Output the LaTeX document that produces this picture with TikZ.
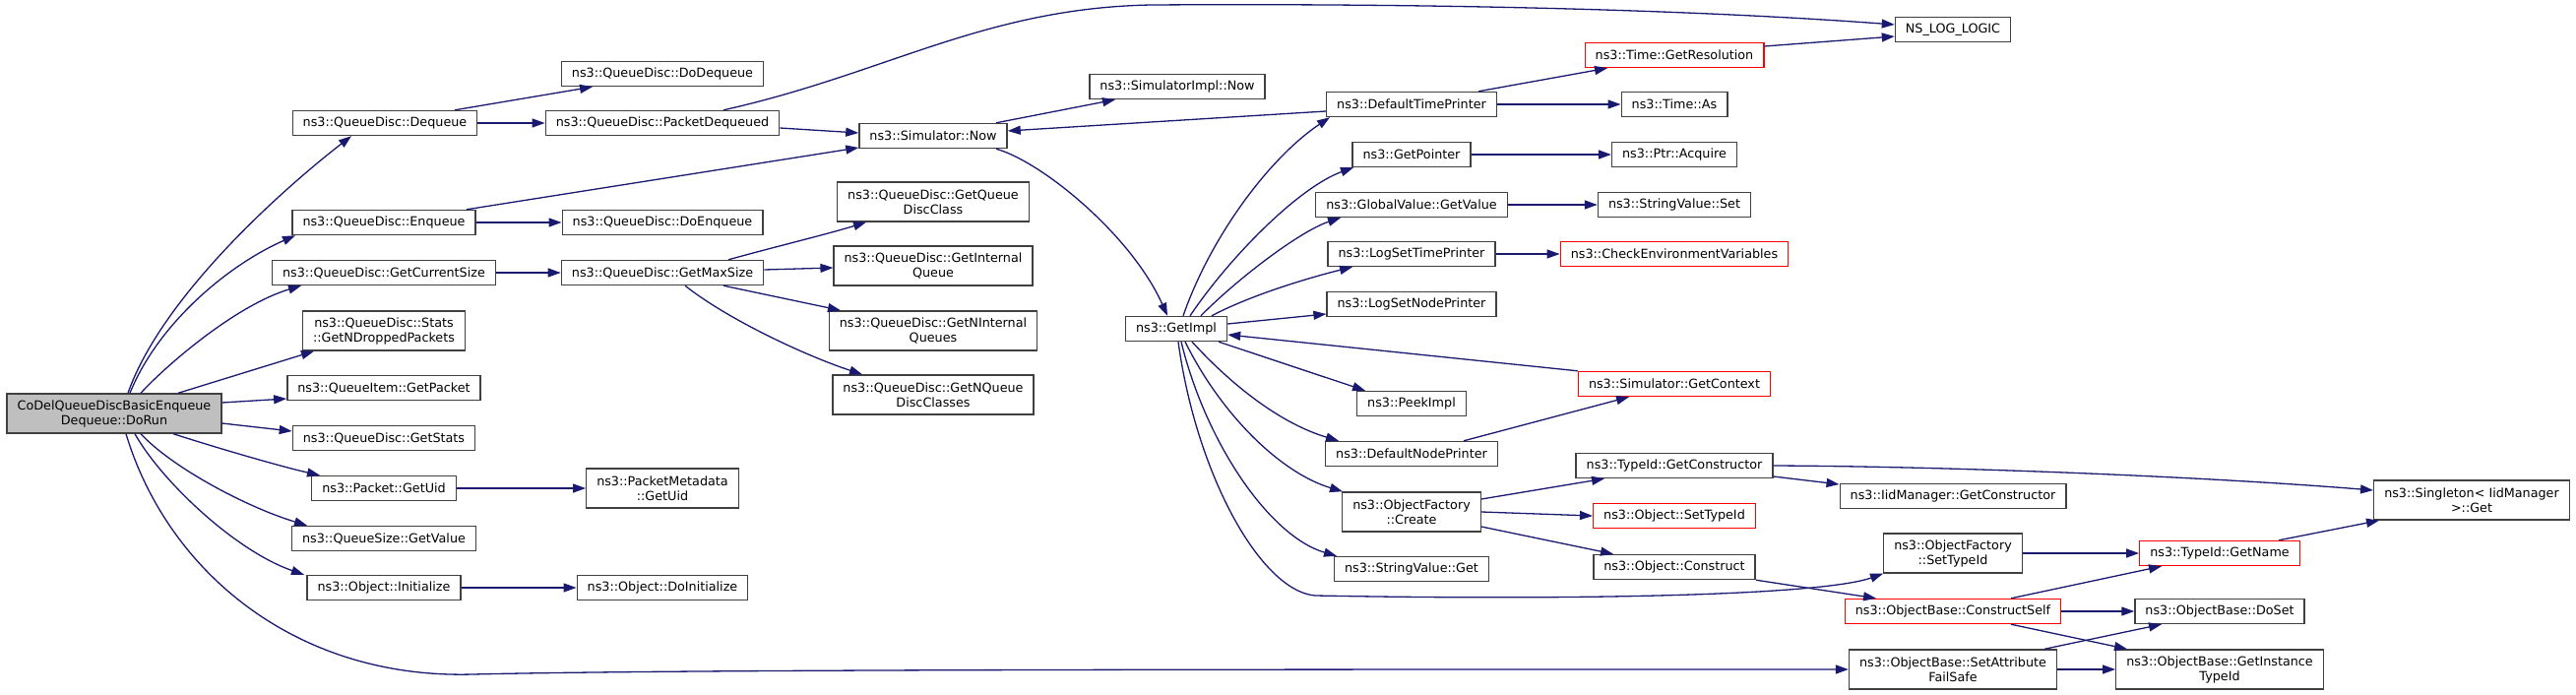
\documentclass[tikz,border=0pt]{standalone}
\usepackage{fontspec}
\setmainfont{DejaVu Sans}
\usetikzlibrary{arrows.meta}
\definecolor{mblue}{HTML}{191970}
\definecolor{gr25}{HTML}{404040}
\definecolor{gr75}{HTML}{BFBFBF}
\begin{document}
\begin{tikzpicture}[x=1pt,y=-1pt,
 fn/.style={draw=gr25, fill=white, line width=1.4pt, inner xsep=10.5pt, inner ysep=4pt, minimum height=25pt, align=center, font=\fontsize{12.75pt}{15pt}\selectfont, text=black},
 fntwo/.style={fn, minimum height=40pt},
 rootfn/.style={fntwo, fill=gr75},
 redfn/.style={fn, draw=red},
 e/.style={draw=mblue, line width=1.3pt, -{Triangle[length=13pt,width=9pt]}}]
\useasboundingbox (0,0) rectangle (2617,706);

% nodes
\node[rootfn] (root) at (116,420) {CoDelQueueDiscBasicEnqueue\\Dequeue::DoRun};
\node[fn] (deq) at (391,125) {ns3::QueueDisc::Dequeue};
\node[fn] (enq) at (390,226) {ns3::QueueDisc::Enqueue};
\node[fn] (gcs) at (390,277) {ns3::QueueDisc::GetCurrentSize};
\node[fntwo] (gnd) at (390,336) {ns3::QueueDisc::Stats\\::GetNDroppedPackets};
\node[fn] (gpk) at (390,394) {ns3::QueueItem::GetPacket};
\node[fn] (gst) at (390,445) {ns3::QueueDisc::GetStats};
\node[fn] (puid) at (390,496) {ns3::Packet::GetUid};
\node[fn] (qsv) at (390,547) {ns3::QueueSize::GetValue};
\node[fn] (oin) at (390,597) {ns3::Object::Initialize};

\node[fn] (ddq) at (673,75) {ns3::QueueDisc::DoDequeue};
\node[fn] (pdq) at (673,125) {ns3::QueueDisc::PacketDequeued};
\node[fn] (denq) at (673,226) {ns3::QueueDisc::DoEnqueue};
\node[fn] (gms) at (673,277) {ns3::QueueDisc::GetMaxSize};
\node[fntwo] (pmu) at (673,496) {ns3::PacketMetadata\\::GetUid};
\node[fn] (doi) at (673,597) {ns3::Object::DoInitialize};

\node[fn] (simnow) at (948,138) {ns3::Simulator::Now};
\node[fntwo] (gqdc) at (948,205) {ns3::QueueDisc::GetQueue\\DiscClass};
\node[fntwo] (giq) at (948,270) {ns3::QueueDisc::GetInternal\\Queue};
\node[fntwo] (gniq) at (948,336) {ns3::QueueDisc::GetNInternal\\Queues};
\node[fntwo] (gnqdc) at (948,401) {ns3::QueueDisc::GetNQueue\\DiscClasses};

\node[fn] (simimpl) at (1196,88) {ns3::SimulatorImpl::Now};
\node[fn] (getimpl) at (1195,334) {ns3::GetImpl};

\node[fn] (dtp) at (1434,106) {ns3::DefaultTimePrinter};
\node[fn] (gptr) at (1434,157) {ns3::GetPointer};
\node[fn] (gvgv) at (1434,208) {ns3::GlobalValue::GetValue};
\node[fn] (lstp) at (1434,258) {ns3::LogSetTimePrinter};
\node[fn] (lsnp) at (1434,309) {ns3::LogSetNodePrinter};
\node[fn] (peek) at (1434,410) {ns3::PeekImpl};
\node[fn] (dnp) at (1434,461) {ns3::DefaultNodePrinter};
\node[fntwo] (ofc) at (1434,520) {ns3::ObjectFactory\\::Create};
\node[fn] (svg) at (1434,578) {ns3::StringValue::Get};

\node[redfn] (tgr) at (1701,56) {ns3::Time::GetResolution};
\node[fn] (tas) at (1701,106) {ns3::Time::As};
\node[fn] (pacq) at (1701,157) {ns3::Ptr::Acquire};
\node[fn] (svs) at (1701,208) {ns3::StringValue::Set};
\node[redfn] (cev) at (1701,258) {ns3::CheckEnvironmentVariables};
\node[redfn] (sgc) at (1701,390) {ns3::Simulator::GetContext};
\node[fn] (tgc) at (1701,473) {ns3::TypeId::GetConstructor};
\node[redfn] (ost) at (1701,524) {ns3::Object::SetTypeId};
\node[fn] (ocon) at (1701,576) {ns3::Object::Construct};

\node[fn] (nslog) at (1984,30) {NS\_LOG\_LOGIC};
\node[fn] (iid) at (1984,504) {ns3::IidManager::GetConstructor};
\node[fntwo] (ofst) at (1984,562) {ns3::ObjectFactory\\::SetTypeId};
\node[redfn] (ocs) at (1984,621) {ns3::ObjectBase::ConstructSelf};
\node[fntwo] (safs) at (1984,680) {ns3::ObjectBase::SetAttribute\\FailSafe};

\node[redfn] (tgn) at (2255,562) {ns3::TypeId::GetName};
\node[fn] (dset) at (2255,621) {ns3::ObjectBase::DoSet};
\node[fntwo] (git) at (2255,680) {ns3::ObjectBase::GetInstance\\TypeId};

\node[fntwo] (sing) at (2511,508) {ns3::Singleton< IidManager\\>::Get};

% edges from root
\draw[e] ([xshift=14pt]root.north) .. controls (165,300) and (290,190) .. ([xshift=-34pt]deq.south);
\draw[e] ([xshift=16pt]root.north) .. controls (160,330) and (230,270) .. ([xshift=-90pt]enq.south);
\draw[e] ([xshift=27pt]root.north) .. controls (170,370) and (240,310) .. ([xshift=-84pt]gcs.south);
\draw[e] ([xshift=65pt]root.north) -- ([xshift=-71pt]gnd.south);
\draw[e] ([yshift=11pt]root.east) -- ([yshift=-11pt]gpk.west);
\draw[e] ([yshift=-10pt]root.east) -- ([yshift=7pt]gst.west);
\draw[e] ([xshift=60pt]root.south) .. controls (230,458) and (290,475) .. ([xshift=-65pt]puid.north);
\draw[e] ([xshift=27pt]root.south) .. controls (175,475) and (250,515) .. ([xshift=-78pt]qsv.north);
\draw[e] ([xshift=21pt]root.south) .. controls (165,490) and (240,560) .. ([xshift=-81pt]oin.north);
\draw[e] ([xshift=12pt]root.south) .. controls (170,580) and (300,690) .. (480,685) .. controls (700,680) and (1200,680) .. (safs.west);

% column 2 -> 3
\draw[e] ([xshift=71pt]deq.north) -- ([xshift=-71pt]ddq.south);
\draw[e] (deq.east) -- (pdq.west);
\draw[e] ([xshift=62pt]pdq.north) .. controls (900,75) and (1000,8) .. (1170,5) .. controls (1500,3) and (1750,12) .. ([yshift=5pt]nslog.west);
\draw[e] ([yshift=-5pt]pdq.east) -- ([yshift=3pt]simnow.west);
\draw[e] ([xshift=84pt]enq.north) -- ([yshift=-12pt]simnow.west);
\draw[e] (enq.east) -- (denq.west);
\draw[e] (gcs.east) -- (gms.west);
\draw[e] ([xshift=67pt]gms.north) .. controls (790,250) and (840,238) .. ([xshift=-68pt]gqdc.south);
\draw[e] ([yshift=3pt]gms.east) -- ([yshift=-2pt]giq.west);
\draw[e] ([xshift=62pt]gms.south) -- ([xshift=-94pt]gniq.north);
\draw[e] ([xshift=23pt]gms.south) .. controls (740,325) and (820,362) .. ([xshift=-72pt]gnqdc.north);
\draw[e] (puid.east) -- (pmu.west);
\draw[e] (oin.east) -- (doi.west);

% Simulator::Now
\draw[e] ([xshift=64pt]simnow.north) -- ([xshift=-63pt]simimpl.south);
\draw[e] ([xshift=64pt]simnow.south) .. controls (1060,165) and (1150,240) .. ([xshift=-9pt]getimpl.north);
\draw[e] ([yshift=-7pt]dtp.west) -- ([yshift=5pt]simnow.east);

% GetImpl fan
\draw[e] ([xshift=7pt]getimpl.north) .. controls (1230,240) and (1290,160) .. ([xshift=-83pt]dtp.south);
\draw[e] ([xshift=14pt]getimpl.north) .. controls (1250,260) and (1320,190) .. ([xshift=-59pt]gptr.south);
\draw[e] ([xshift=25pt]getimpl.north) .. controls (1255,285) and (1320,235) .. ([xshift=-72pt]gvgv.south);
\draw[e] ([xshift=36pt]getimpl.north) .. controls (1270,300) and (1330,282) .. ([xshift=-60pt]lstp.south);
\draw[e] ([yshift=5pt]getimpl.east) -- ([yshift=-10pt]lsnp.west);
\draw[e] (sgc.north west) -- ([yshift=-6pt]getimpl.east);
\draw[e] ([xshift=43pt]getimpl.south) -- ([xshift=-47pt]peek.north);
\draw[e] ([xshift=16pt]getimpl.south) .. controls (1250,390) and (1300,430) .. ([xshift=-74pt]dnp.north);
\draw[e] ([xshift=9pt]getimpl.south) .. controls (1240,420) and (1300,480) .. ([xshift=-70pt]ofc.north);
\draw[e] ([xshift=5pt]getimpl.south) .. controls (1225,450) and (1290,545) .. ([xshift=-76pt]svg.north);
\draw[e] ([xshift=2pt]getimpl.south) .. controls (1215,480) and (1280,600) .. (1336,605) .. controls (1600,610) and (1850,605) .. (ofst.south west);

% column 6 -> 7
\draw[e] ([xshift=68pt]dtp.north) -- ([xshift=-68pt]tgr.south);
\draw[e] (dtp.east) -- (tas.west);
\draw[e] ([yshift=9pt]tgr.east) -- ([yshift=-7pt]nslog.west);
\draw[e] (gptr.east) -- (pacq.west);
\draw[e] (gvgv.east) -- (svs.west);
\draw[e] (lstp.east) -- (cev.west);
\draw[e] ([xshift=53pt]dnp.north) -- ([xshift=-46pt]sgc.south);
\draw[e] ([yshift=13pt]ofc.east) -- ([xshift=-71pt]tgc.south);
\draw[e] (ofc.east) -- (ost.west);
\draw[e] ([yshift=-15pt]ofc.east) -- ([xshift=-62pt]ocon.north);

% column 7 -> right
\draw[e] ([yshift=-11pt]tgc.east) -- ([yshift=12pt]iid.west);
\draw[e] (tgc.east) .. controls (2000,474) and (2250,485) .. ([yshift=10pt]sing.west);
\draw[e] (ocon.south east) -- ([xshift=-78pt]ocs.north);
\draw[e] (ofst.east) -- (tgn.west);
\draw[e] ([xshift=59pt]ocs.north) -- ([xshift=-59pt]tgn.south);
\draw[e] (ocs.east) -- (dset.west);
\draw[e] ([xshift=59pt]ocs.south) -- ([xshift=-94pt]git.north);
\draw[e] ([xshift=93pt]safs.north) -- ([xshift=-59pt]dset.south);
\draw[e] (safs.east) -- (git.west);
\draw[e] ([xshift=60pt]tgn.north) -- ([xshift=-94pt]sing.south);
\end{tikzpicture}
\end{document}
